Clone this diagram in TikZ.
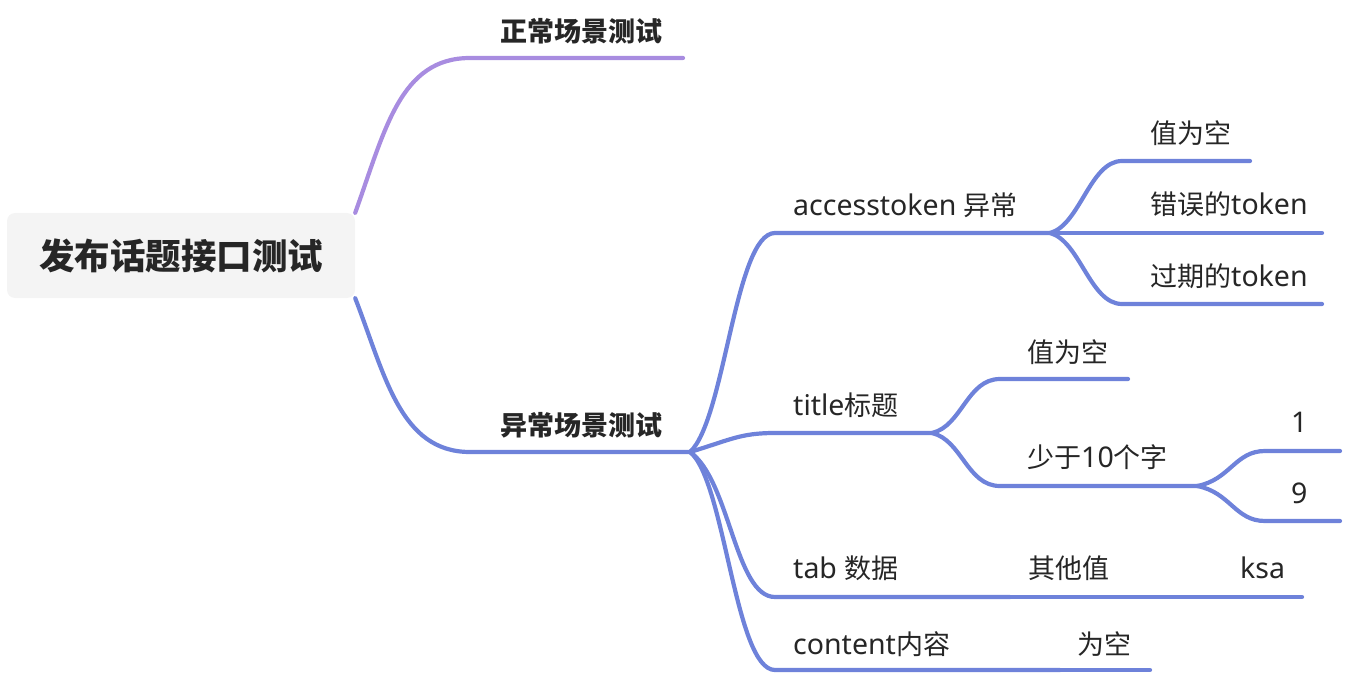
\documentclass[tikz,border=0pt]{standalone}
\usepackage{fontspec}
\setmainfont{Noto Sans}
\newfontfamily\cjkfam{Noto Sans CJK SC}
\newcommand\zhtxt[1]{{\cjkfam\fontsize{27}{30}\selectfont #1}}
\definecolor{blueline}{RGB}{110,130,218}
\definecolor{purpleline}{RGB}{168,140,224}
\definecolor{txt}{RGB}{38,38,38}
\definecolor{rootfill}{RGB}{244,244,244}
\begin{document}
\begin{tikzpicture}[x=1pt,y=-1pt,
  lbl/.style={anchor=base west, inner sep=0pt, text=txt, font=\fontsize{28.5}{32}\selectfont},
  lvl/.style={anchor=base west, inner sep=0pt, text=txt, font=\cjkfam\fontsize{27}{30}\selectfont\bfseries},
  br/.style={line width=4.2pt, line cap=round, draw=blueline},
  pbr/.style={br, draw=purpleline}]
\useasboundingbox (0,0) rectangle (1348,676);
% root
\node[fill=rootfill, rounded corners=8pt, minimum width=348pt, minimum height=85pt, inner sep=0pt,
      text=txt, font=\cjkfam\fontsize{35.5}{38}\selectfont\bfseries] (root) at (181,255.5) {发布话题接口测试};
% level 1
\node[lvl] (normal) at (500,42) {正常场景测试};
\node[lvl] (abnormal) at (500,435) {异常场景测试};
\coordinate (normalS) at (470,58);
\coordinate (normalE) at (683,58);
\coordinate (abnS) at (470,452);
\coordinate (abnE) at (690,452);
\draw[pbr] (root.north east) .. controls (385,130) and (400,58) .. (normalS) -- (normalE);
\draw[br] (root.south east) .. controls (385,375) and (400,452) .. (abnS) -- (abnE);
% level 2
\node[lbl] (acc) at (793,216) {accesstoken \zhtxt{异常}};
\node[lbl] (title) at (793,415) {title\zhtxt{标题}};
\node[lbl] (tab) at (793,578) {tab \zhtxt{数据}};
\node[lbl] (content) at (793,654) {content\zhtxt{内容}};
\coordinate (accS) at (775,233); \coordinate (accE) at (1050,233);
\coordinate (titleS) at (775,433); \coordinate (titleE) at (932,433);
\coordinate (tabS) at (775,597); \coordinate (tabE) at (1010,597);
\coordinate (contS) at (775,670); \coordinate (contE) at (1060,670);
\draw[br] (abnE) .. controls (725,420) and (735,233) .. (accS) -- (accE);
\draw[br] (abnE) .. controls (730,440) and (740,433) .. (titleS) -- (titleE);
\draw[br] (abnE) .. controls (730,480) and (735,597) .. (tabS) -- (tabE);
\draw[br] (abnE) .. controls (725,480) and (735,670) .. (contS) -- (contE);
% accesstoken children
\node[lbl] (a1) at (1150,144) {\zhtxt{值为空}};
\node[lbl] (a2) at (1150,215) {\zhtxt{错误的}token};
\node[lbl] (a3) at (1150,286) {\zhtxt{过期的}token};
\coordinate (a1S) at (1122,161); \coordinate (a1E) at (1250,161);
\coordinate (a2E) at (1322,233);
\coordinate (a3S) at (1122,304); \coordinate (a3E) at (1322,304);
\draw[br] (accE) .. controls (1080,225) and (1090,161) .. (a1S) -- (a1E);
\draw[br] (accE) -- (a2E);
\draw[br] (accE) .. controls (1080,241) and (1090,304) .. (a3S) -- (a3E);
% title children
\node[lbl] (t1) at (1027,362) {\zhtxt{值为空}};
\node[lbl] (t2) at (1027,467) {\zhtxt{少于}10\zhtxt{个字}};
\coordinate (t1S) at (1000,379); \coordinate (t1E) at (1128,379);
\coordinate (t2S) at (1000,486); \coordinate (t2E) at (1197,486);
\draw[br] (titleE) .. controls (962,426) and (967,379) .. (t1S) -- (t1E);
\draw[br] (titleE) .. controls (962,440) and (967,486) .. (t2S) -- (t2E);
% 少于10个字 children
\node[lbl] (n1) at (1291,432) {1};
\node[lbl] (n9) at (1291,503) {9};
\coordinate (n1S) at (1265,451); \coordinate (n1E) at (1340,451);
\coordinate (n9S) at (1265,521); \coordinate (n9E) at (1340,521);
\draw[br] (t2E) .. controls (1230,480) and (1235,451) .. (n1S) -- (n1E);
\draw[br] (t2E) .. controls (1230,492) and (1235,521) .. (n9S) -- (n9E);
% tab children
\node[lbl] (other) at (1028,578) {\zhtxt{其他值}};
\node[lbl] (ksa) at (1240,578) {ksa};
\coordinate (otherE) at (1200,597);
\coordinate (ksaE) at (1302,597);
\draw[br] (tabE) -- (otherE);
\draw[br] (otherE) -- (ksaE);
% content children
\node[lbl] (empty) at (1077,654) {\zhtxt{为空}};
\coordinate (emptyE) at (1150,670);
\draw[br] (contE) -- (emptyE);
\end{tikzpicture}
\end{document}
